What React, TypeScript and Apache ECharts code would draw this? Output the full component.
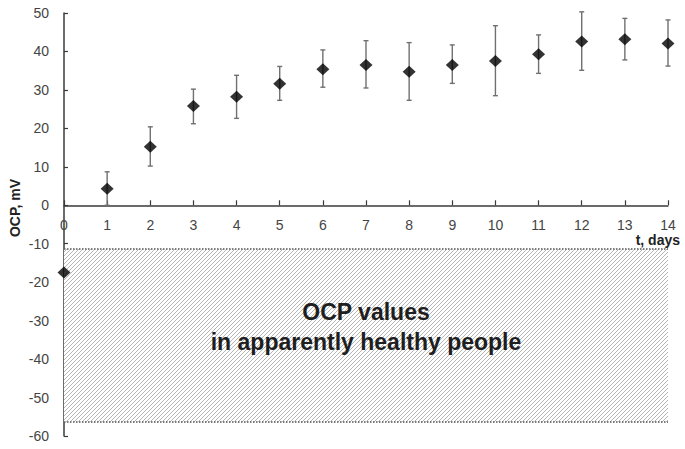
import React, { useEffect, useRef } from "react";
import * as echarts from "echarts";

const days = [0, 1, 2, 3, 4, 5, 6, 7, 8, 9, 10, 11, 12, 13, 14];
const ocp = [-17.5, 4.3, 15.2, 25.8, 28.2, 31.6, 35.4, 36.5, 34.7, 36.5, 37.5, 39.3, 42.6, 43.2, 42.1];
const errUpper = [0, 4.4, 5.2, 4.4, 5.6, 4.5, 5.0, 6.3, 7.6, 5.2, 9.2, 5.0, 7.7, 5.4, 6.1];
const errLower = [0, 4.3, 5.0, 4.6, 5.6, 4.3, 4.7, 6.0, 7.4, 4.8, 9.0, 5.0, 7.5, 5.4, 5.9];
const healthyRange = [-11.3, -56.4];
const healthyText = "OCP values\nin apparently healthy people";
const yTicks = { min: -60, max: 50, interval: 10 };
const xTicks = { min: 0, max: 14, interval: 1 };

function makeHatch(): HTMLCanvasElement {
  const c = document.createElement("canvas");
  c.width = 4;
  c.height = 4;
  const ctx = c.getContext("2d")!;
  ctx.fillStyle = "#ffffff";
  ctx.fillRect(0, 0, 4, 4);
  ctx.strokeStyle = "#adadad";
  ctx.lineWidth = 0.9;
  ctx.beginPath();
  ctx.moveTo(0, 4);
  ctx.lineTo(4, 0);
  ctx.moveTo(-1, 1);
  ctx.lineTo(1, -1);
  ctx.moveTo(3, 5);
  ctx.lineTo(5, 3);
  ctx.stroke();
  return c;
}

export default function App() {
  const ref = useRef<HTMLDivElement>(null);
  useEffect(() => {
    if (!ref.current) return;
    const chart = echarts.init(ref.current, undefined, { renderer: "svg" });
    const font = "'Liberation Sans', Arial, sans-serif";
    const points = days.map((d, i) => [d, ocp[i]]);
    const errData = days.map((d, i) => [d, ocp[i] - errLower[i], ocp[i] + errUpper[i]]);
    chart.setOption({
      animation: false,
      backgroundColor: "#ffffff",
      grid: { left: 64, right: 17, top: 13, bottom: 13, containLabel: false, outerBoundsMode: "none" },
      xAxis: {
        type: "value",
        position: "bottom",
        offset: 0,
        min: xTicks.min,
        max: xTicks.max,
        interval: xTicks.interval,
        axisLine: { show: true, onZero: false, lineStyle: { color: "#3a3a3a", width: 1.5 } },
        axisTick: { show: true, inside: true, length: 5, lineStyle: { color: "#3a3a3a", width: 1.2 } },
        axisLabel: { margin: 13, fontSize: 14, fontFamily: font, color: "#444" },
        splitLine: { show: false },
      },
      yAxis: {
        type: "value",
        min: yTicks.min,
        max: yTicks.max,
        interval: yTicks.interval,
        axisLine: { show: true, onZero: false, lineStyle: { color: "#3a3a3a", width: 1.5 } },
        axisTick: { show: true, inside: true, length: 4, lineStyle: { color: "#3a3a3a", width: 1.2 } },
        axisLabel: { margin: 15, fontSize: 14, fontFamily: font, color: "#444" },
        splitLine: { show: false },
      },
      graphic: [
        {
          type: "text",
          x: 15,
          y: 208,
          z: 100,
          rotation: Math.PI / 2,
          style: {
            text: "OCP, mV",
            fontFamily: font,
            fontWeight: "bold",
            fontSize: 14,
            fill: "#222",
            align: "center",
            verticalAlign: "middle",
          },
        },
        {
          type: "text",
          x: 680,
          y: 240,
          z: 100,
          style: {
            text: "t, days",
            fontFamily: font,
            fontWeight: "bold",
            fontSize: 14,
            fill: "#222",
            align: "right",
            verticalAlign: "middle",
          },
        },
      ],
      series: [
        {
          type: "scatter",
          data: [],
          z: 1,
          markArea: {
            silent: true,
            itemStyle: { color: { image: makeHatch(), repeat: "repeat" } },
            label: {
              show: true,
              position: "inside",
              offset: [0, -8],
              formatter: healthyText,
              fontFamily: font,
              fontWeight: "bold",
              fontSize: 23,
              lineHeight: 30,
              color: "#1e1e1e",
            },
            data: [[{ coord: [xTicks.min, healthyRange[0]] }, { coord: [xTicks.max, healthyRange[1]] }]],
          },
          markLine: {
            silent: true,
            symbol: "none",
            label: { show: false },
            lineStyle: { type: "dotted", color: "#555", width: 1.5 },
            data: healthyRange.map((v) => [{ coord: [xTicks.min, v] }, { coord: [xTicks.max, v] }]),
          },
        },
        {
          type: "custom",
          z: 3,
          data: errData,
          renderItem: (params: any, api: any) => {
            const x = api.value(0);
            const lo = api.value(1);
            const hi = api.value(2);
            if (hi - lo <= 0) return null;
            const pLo = api.coord([x, lo]);
            const pHi = api.coord([x, hi]);
            const w = 2.5;
            const style = { stroke: "#707070", lineWidth: 1.4 };
            return {
              type: "group",
              children: [
                { type: "line", shape: { x1: pLo[0], y1: pLo[1], x2: pHi[0], y2: pHi[1] }, style },
                { type: "line", shape: { x1: pHi[0] - w, y1: pHi[1], x2: pHi[0] + w, y2: pHi[1] }, style },
                { type: "line", shape: { x1: pLo[0] - w, y1: pLo[1], x2: pLo[0] + w, y2: pLo[1] }, style },
              ],
            };
          },
        },
        {
          type: "scatter",
          z: 4,
          data: points,
          symbol: "diamond",
          symbolSize: [13, 12],
          itemStyle: { color: "#000" },
        },
      ],
    });
    // Move the x axis (line, ticks and labels) up to y = 0 using the chart's own scale.
    const zeroY = chart.convertToPixel({ gridIndex: 0 }, [xTicks.min, 0])[1];
    const bottomY = chart.convertToPixel({ gridIndex: 0 }, [xTicks.min, yTicks.min])[1];
    chart.setOption({ xAxis: { offset: zeroY - bottomY } });
    return () => chart.dispose();
  }, []);
  return (
    <div
      ref={ref}
      style={{ position: "fixed", left: 0, top: 0, width: 685, height: 449 }}
    />
  );
}
